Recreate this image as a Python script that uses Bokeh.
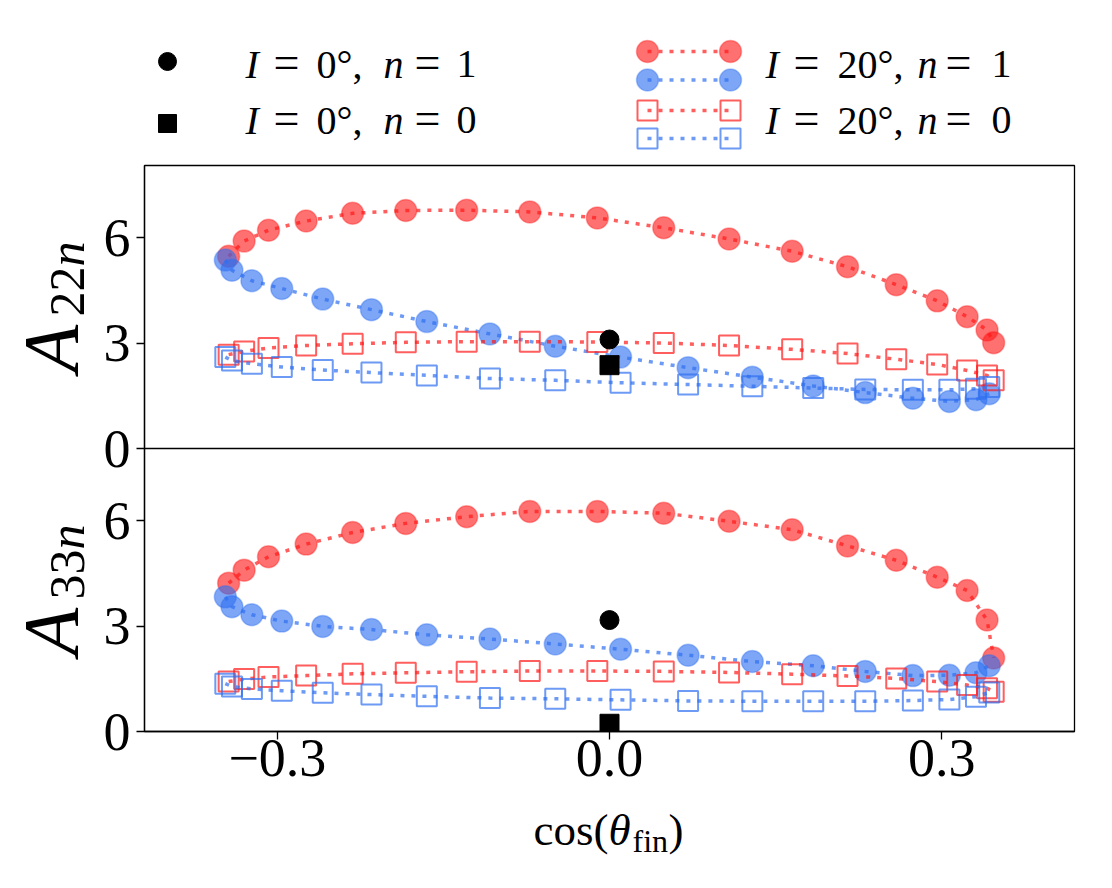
import numpy as np
from bokeh.plotting import figure
from bokeh.layouts import column, row
from bokeh.models import Range1d, FixedTicker, Span
from bokeh.core.properties import value
from bokeh.embed import file_html
from bokeh.resources import INLINE

# ---------------- data ----------------
x_red = [-0.344, -0.330, -0.308, -0.274, -0.232, -0.184, -0.129, -0.072, -0.011,
         0.049, 0.108, 0.165, 0.215, 0.259, 0.296, 0.323, 0.341, 0.347]
x_blue = [-0.347, -0.341, -0.323, -0.296, -0.259, -0.215, -0.165, -0.108, -0.049,
          0.010, 0.071, 0.129, 0.184, 0.231, 0.274, 0.307, 0.331, 0.343]

A22_red_n1 = [5.47, 5.90, 6.21, 6.47, 6.69, 6.77, 6.78, 6.73, 6.56,
              6.28, 5.96, 5.61, 5.17, 4.66, 4.20, 3.75, 3.37, 3.01]
A22_blue_n1 = [5.36, 5.07, 4.77, 4.55, 4.25, 3.95, 3.61, 3.26, 2.91,
               2.60, 2.30, 2.03, 1.78, 1.59, 1.43, 1.34, 1.39, 1.56]
A22_red_n0 = [2.67, 2.76, 2.86, 2.93, 2.98, 3.02, 3.04, 3.04, 3.03,
              3.00, 2.93, 2.82, 2.70, 2.54, 2.39, 2.22, 2.08, 1.94]
A22_blue_n0 = [2.60, 2.50, 2.41, 2.32, 2.23, 2.16, 2.08, 1.99, 1.94,
               1.87, 1.82, 1.77, 1.72, 1.68, 1.67, 1.67, 1.70, 1.75]

A33_red_n1 = [4.22, 4.59, 4.97, 5.33, 5.66, 5.92, 6.11, 6.26, 6.26,
              6.21, 5.98, 5.74, 5.28, 4.87, 4.39, 4.01, 3.17, 2.09]
A33_blue_n1 = [3.83, 3.55, 3.32, 3.14, 2.99, 2.90, 2.75, 2.63, 2.49,
               2.34, 2.17, 1.99, 1.87, 1.71, 1.59, 1.60, 1.67, 1.87]
A33_red_n0 = [1.42, 1.49, 1.55, 1.59, 1.64, 1.67, 1.70, 1.72, 1.72,
              1.71, 1.68, 1.63, 1.58, 1.51, 1.42, 1.32, 1.23, 1.13]
A33_blue_n0 = [1.36, 1.28, 1.21, 1.16, 1.10, 1.05, 1.00, 0.95, 0.93,
               0.90, 0.87, 0.86, 0.86, 0.86, 0.88, 0.91, 0.99, 1.11]

x_I0 = [0.0]
A22_I0_n1 = [3.10]
A22_I0_n0 = [2.37]
A33_I0_n1 = [3.17]
A33_I0_n0 = [0.22]

x_ticks = [-0.3, 0.0, 0.3]
x_tick_labels = ["\u22120.3", "0.0", "0.3"]
y_ticks = [0, 3, 6]
y_tick_labels = ["0", "3", "6"]

# ---------------- style / layout constants ----------------
FONT = "Liberation Serif"
RED = "#ff1a1a"
BLUE = "#2f6ff0"
YLAB_W = 98            # strip holding the y-axis labels
MAIN_W = 1112 - YLAB_W
BL, BR = 144 - YLAB_W, 38   # frame x 144..1074
LEG_H = 160
PANEL_H = 283
YMAX = 8.05
BOTTOM_B = 72
MAIN_H = 5 + 2 * PANEL_H + BOTTOM_B
XLAB_H = 888 - LEG_H - MAIN_H
XR = Range1d(-0.42, 0.42)
MID = 0.33             # distance from baseline to the middle of the em box (fraction of size)


def add_series(p, x, y, color, filled, y_range_name="default"):
    p.line(x, y, line_color=color, line_alpha=0.7, line_width=3.5, line_dash="4 7",
           y_range_name=y_range_name)
    if filled:
        p.scatter(x, y, marker="circle", size=22, fill_color=color, fill_alpha=0.62,
                  line_color=color, line_alpha=0.35, line_width=1.5, y_range_name=y_range_name)
    else:
        p.scatter(x, y, marker="square", size=20, fill_color=None,
                  line_color=color, line_alpha=0.7, line_width=2, y_range_name=y_range_name)


def bare(width, height, xr, yr, **kw):
    p = figure(width=width, height=height, x_range=xr, y_range=yr,
               output_backend="svg", toolbar_location=None,
               x_axis_location=None, y_axis_location=None, **kw)
    p.grid.grid_line_color = None
    p.outline_line_color = None
    p.border_fill_color = "white"
    p.background_fill_color = "white"
    return p


# ---------------- legend ----------------
leg = bare(MAIN_W, LEG_H, Range1d(144, 1074), Range1d(LEG_H, 0),
           min_border_left=BL, min_border_right=BR, min_border_top=0, min_border_bottom=0)
leg.scatter([167], [61], marker="circle", size=18, fill_color="black", line_color="black")
leg.scatter([167], [123], marker="square", size=18, fill_color="black", line_color="black")
for yy, col, filled in [(51, RED, True), (79.5, BLUE, True), (110, RED, False), (138, BLUE, False)]:
    add_series(leg, [647, 730], [yy, yy], col, filled)


def leg_row(xs, y, parts):
    for xx, (txt, it) in zip(xs, parts):
        size = 46 if txt == "=" else 40
        leg.text([xx], [y - MID * size], text=[txt], text_font=value(FONT),
                 text_font_size=f"{size}px",
                 text_font_style="italic" if it else "normal",
                 text_align="left", text_baseline="middle", text_color="black")


LEFT_X = [245, 273, 316, 383, 414, 456]
RIGHT_X = [765, 793, 837, 917, 945, 991]
leg_row(LEFT_X, 77, [("I", 1), ("=", 0), ("0\u00b0,", 0), ("n", 1), ("=", 0), ("1", 0)])
leg_row(LEFT_X, 133, [("I", 1), ("=", 0), ("0\u00b0,", 0), ("n", 1), ("=", 0), ("0", 0)])
leg_row(RIGHT_X, 77, [("I", 1), ("=", 0), ("20\u00b0,", 0), ("n", 1), ("=", 0), ("1", 0)])
leg_row(RIGHT_X, 133, [("I", 1), ("=", 0), ("20\u00b0,", 0), ("n", 1), ("=", 0), ("0", 0)])

# ---------------- main (two stacked panels) ----------------
# default range -> upper panel (0..YMAX in upper half); "low" range -> lower panel
main = figure(width=MAIN_W, height=MAIN_H, x_range=XR, y_range=Range1d(-YMAX, YMAX),
              output_backend="svg", toolbar_location=None,
              min_border_left=BL, min_border_right=BR, min_border_top=5,
              min_border_bottom=BOTTOM_B)
main.extra_y_ranges = {"low": Range1d(0, 2 * YMAX)}
main.grid.grid_line_color = None
main.outline_line_color = "black"
main.outline_line_width = 1.3
main.border_fill_color = "white"

for ax in main.axis:
    ax.axis_line_color = "black"
    ax.axis_line_width = 1.3
    ax.major_tick_out = 8
    ax.major_tick_in = 0
    ax.minor_tick_out = 0
    ax.minor_tick_in = 0
    ax.major_tick_line_width = 1.3
    ax.major_label_text_font = FONT
    ax.major_label_text_color = "black"
    ax.major_label_text_font_size = "54px"

main.xaxis.ticker = FixedTicker(ticks=x_ticks)
main.xaxis.major_label_overrides = {t: l for t, l in zip(x_ticks, x_tick_labels)}
main.xaxis.major_label_standoff = 0

# left axis: upper panel ticks (default range) + lower panel ticks (shifted into default range)
low_ticks = [t - YMAX for t in y_ticks]
all_ticks = low_ticks + list(y_ticks)
main.yaxis.ticker = FixedTicker(ticks=all_ticks)
overrides = {t: l for t, l in zip(low_ticks, y_tick_labels)}
overrides.update({t: l for t, l in zip(y_ticks, y_tick_labels)})
main.yaxis.major_label_overrides = overrides
main.yaxis.major_label_standoff = 6

main.add_layout(Span(location=0, dimension="width", line_color="black", line_width=1.3))

add_series(main, x_red, A22_red_n1, RED, True)
add_series(main, x_blue, A22_blue_n1, BLUE, True)
add_series(main, x_red, A22_red_n0, RED, False)
add_series(main, x_blue, A22_blue_n0, BLUE, False)
main.scatter(x_I0, A22_I0_n1, marker="circle", size=19, fill_color="black", line_color="black")
main.scatter(x_I0, A22_I0_n0, marker="square", size=19, fill_color="black", line_color="black")

add_series(main, x_red, A33_red_n1, RED, True, "low")
add_series(main, x_blue, A33_blue_n1, BLUE, True, "low")
add_series(main, x_red, A33_red_n0, RED, False, "low")
add_series(main, x_blue, A33_blue_n0, BLUE, False, "low")
main.scatter(x_I0, A33_I0_n1, marker="circle", size=19, fill_color="black", line_color="black",
             y_range_name="low")
main.scatter(x_I0, A33_I0_n0, marker="square", size=19, fill_color="black", line_color="black",
             y_range_name="low")

# ---------------- x label: cos(theta_fin) ----------------
TOP_X = LEG_H + MAIN_H
xlab = bare(MAIN_W, XLAB_H, XR, Range1d(888, TOP_X),
            min_border_left=BL, min_border_right=BR, min_border_top=0, min_border_bottom=0)
for dx, txt, size, style, yy in [(-76, "cos(", 45, "normal", 844),
                                 (-1, "\u03b8", 45, "italic", 844),
                                 (23, "fin", 32, "normal", 851),
                                 (59, ")", 45, "normal", 844)]:
    xlab.text([0.0], [yy - MID * size], text=[txt], x_offset=dx, text_font=value(FONT),
              text_font_size=f"{size}px", text_font_style=style, text_align="left",
              text_baseline="middle", text_color="black")

# ---------------- y labels strip ----------------
ylab = bare(YLAB_W, 888, Range1d(0, YLAB_W), Range1d(888, 0), min_border=0)
for a_start, sub in [(372, "22"), (655, "33")]:
    ylab.text([76 - MID * 78], [a_start], text=["A"], angle=np.pi / 2, text_font=value(FONT),
              text_font_size="78px", text_font_style="italic", text_align="left",
              text_baseline="middle", text_color="black")
    ylab.text([83 - MID * 50], [a_start - 56], text=[sub], angle=np.pi / 2,
              text_font=value(FONT), text_font_size="50px", text_align="left",
              text_baseline="middle", text_color="black")
    ylab.text([83 - MID * 50], [a_start - 106], text=["n"], angle=np.pi / 2,
              text_font=value(FONT), text_font_size="50px", text_font_style="italic",
              text_align="left", text_baseline="middle", text_color="black")

layout = row(ylab, column(leg, main, xlab, spacing=0), spacing=0)
open("out.html", "w").write(file_html(layout, INLINE))
